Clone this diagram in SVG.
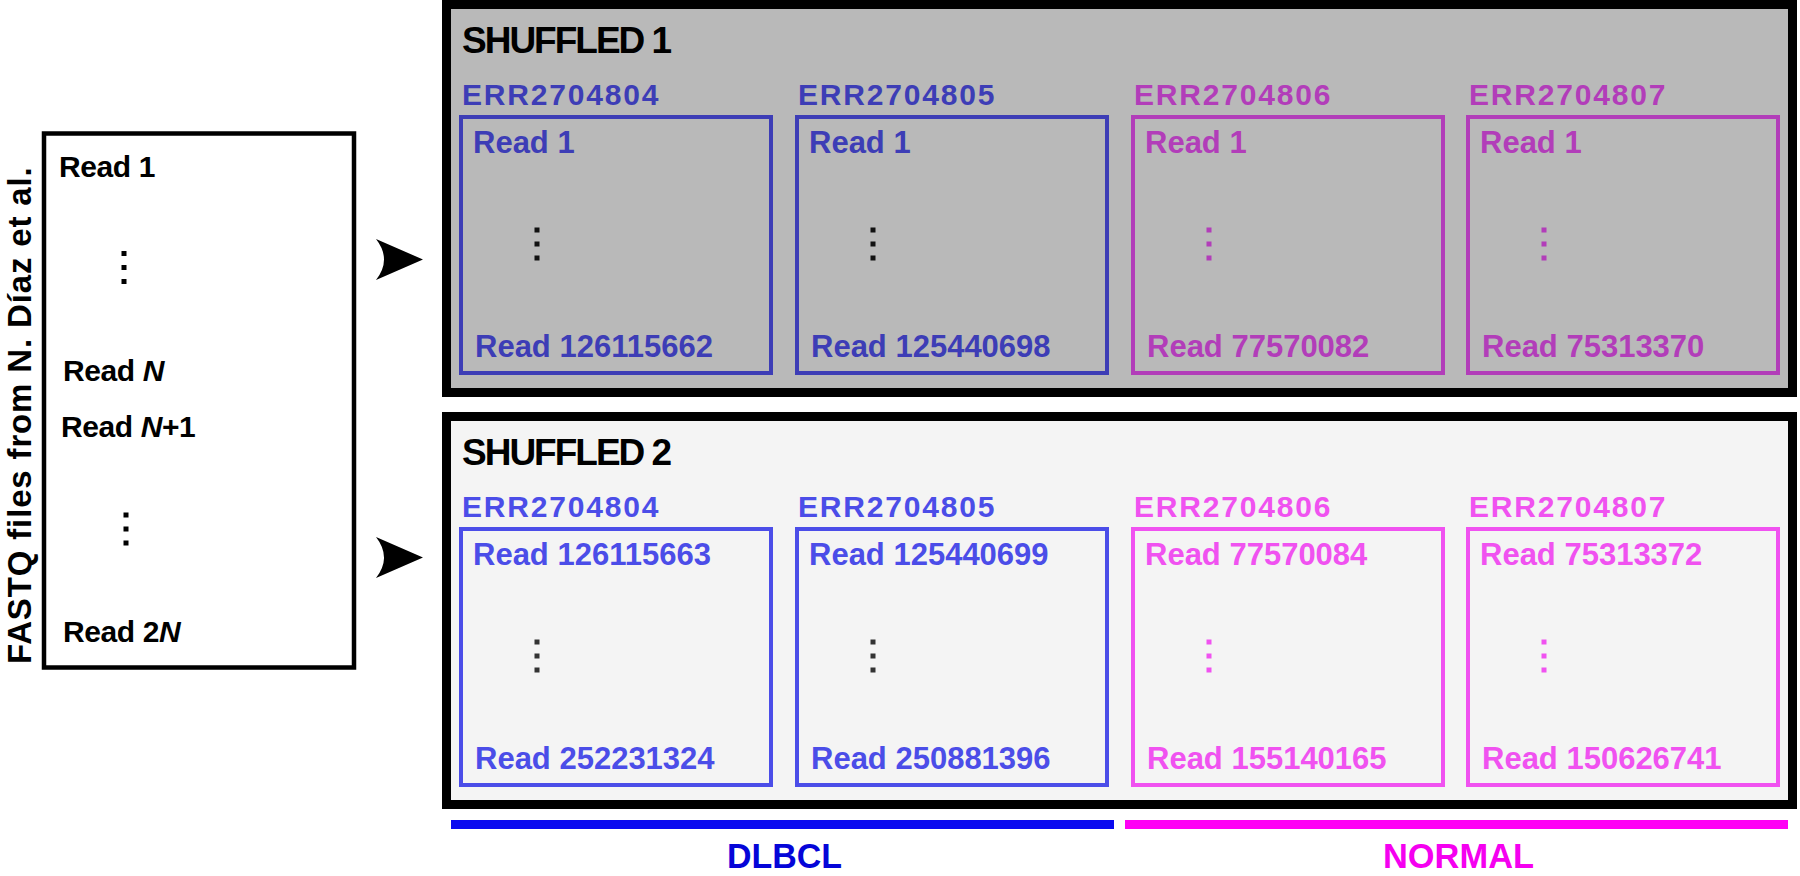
<svg xmlns="http://www.w3.org/2000/svg" width="1800" height="876" viewBox="0 0 1800 876">
<defs>
<style>
.t{font-family:"Liberation Sans",Arial,Helvetica,sans-serif;font-weight:bold}
.title{font-size:37px;letter-spacing:-2px;fill:#000}
.err{font-size:30px;letter-spacing:1.8px}
.rd{font-size:30px;letter-spacing:-0.4px}
.rs{font-size:31px}
.frame{stroke:#000;stroke-width:9}
.sample{fill:none;stroke-width:4}
.s1 .blue{fill:#3d3db6}
.s1 .mag{fill:#b23db9}
.s1 .blueS{stroke:#3d3db6}
.s1 .magS{stroke:#b23db9}
.s2 .blue{fill:#4b4de8}
.s2 .mag{fill:#f052f0}
.s2 .blueS{stroke:#4b4de8}
.s2 .magS{stroke:#f052f0}
.arrow{fill:#000}
.lbl{font-size:35px}
</style>
<g id="vdots">
<rect x="-2.5" y="-16.5" width="5" height="5"/>
<rect x="-2.5" y="-2.5" width="5" height="5"/>
<rect x="-2.5" y="11.5" width="5" height="5"/>
</g>
</defs>
<rect width="1800" height="876" fill="#fff"/>

<g id="source-fastq">
<rect x="44" y="133.5" width="310" height="534" fill="#fff" stroke="#000" stroke-width="4.5"/>
<text class="t" x="31" y="664" font-size="33" letter-spacing="0.85" transform="rotate(-90 31 664)">FASTQ files from N. Díaz et al.</text>
<text class="t rd" x="59" y="177">Read 1</text>
<use href="#vdots" x="124" y="267.5" fill="#000"/>
<text class="t rd" x="63" y="381">Read <tspan font-style="italic">N</tspan></text>
<text class="t rd" x="61" y="437">Read <tspan font-style="italic">N</tspan>+1</text>
<use href="#vdots" x="126" y="529" fill="#000"/>
<text class="t rd" x="63" y="642">Read 2<tspan font-style="italic">N</tspan></text>
</g>

<g id="connectors">
<path class="arrow" d="M376,239 L423,259.5 L376,280 Q392,259.5 376,239 Z"/>
<path class="arrow" d="M376,537 L423,557.5 L376,578 Q392,557.5 376,537 Z"/>
</g>

<g id="shuffled1" class="s1">
<rect class="frame" x="446.5" y="4.5" width="1346" height="388" fill="#b9b9b9"/>
<text class="t title" x="462" y="53">SHUFFLED 1</text>
<g id="s1-ERR2704804">
<text class="t err blue" x="462" y="105">ERR2704804</text>
<rect class="sample blueS" x="461" y="117" width="310" height="256"/>
<text class="t rs blue" x="473" y="153">Read 1</text>
<use href="#vdots" x="537" y="244" fill="#111"/>
<text class="t rs blue" x="475" y="357">Read 126115662</text>
</g>
<g id="s1-ERR2704805">
<text class="t err blue" x="798" y="105">ERR2704805</text>
<rect class="sample blueS" x="797" y="117" width="310" height="256"/>
<text class="t rs blue" x="809" y="153">Read 1</text>
<use href="#vdots" x="873" y="244" fill="#111"/>
<text class="t rs blue" x="811" y="357">Read 125440698</text>
</g>
<g id="s1-ERR2704806">
<text class="t err mag" x="1134" y="105">ERR2704806</text>
<rect class="sample magS" x="1133" y="117" width="310" height="256"/>
<text class="t rs mag" x="1145" y="153">Read 1</text>
<use href="#vdots" x="1209" y="244" class="mag"/>
<text class="t rs mag" x="1147" y="357">Read 77570082</text>
</g>
<g id="s1-ERR2704807">
<text class="t err mag" x="1469" y="105">ERR2704807</text>
<rect class="sample magS" x="1468" y="117" width="310" height="256"/>
<text class="t rs mag" x="1480" y="153">Read 1</text>
<use href="#vdots" x="1544" y="244" class="mag"/>
<text class="t rs mag" x="1482" y="357">Read 75313370</text>
</g>
</g>

<g id="shuffled2" class="s2" transform="translate(0,412)">
<rect class="frame" x="446.5" y="4.5" width="1346" height="388" fill="#f4f4f4"/>
<text class="t title" x="462" y="53">SHUFFLED 2</text>
<g id="s2-ERR2704804">
<text class="t err blue" x="462" y="105">ERR2704804</text>
<rect class="sample blueS" x="461" y="117" width="310" height="256"/>
<text class="t rs blue" x="473" y="153">Read 126115663</text>
<use href="#vdots" x="537" y="244" fill="#333"/>
<text class="t rs blue" x="475" y="357">Read 252231324</text>
</g>
<g id="s2-ERR2704805">
<text class="t err blue" x="798" y="105">ERR2704805</text>
<rect class="sample blueS" x="797" y="117" width="310" height="256"/>
<text class="t rs blue" x="809" y="153">Read 125440699</text>
<use href="#vdots" x="873" y="244" fill="#333"/>
<text class="t rs blue" x="811" y="357">Read 250881396</text>
</g>
<g id="s2-ERR2704806">
<text class="t err mag" x="1134" y="105">ERR2704806</text>
<rect class="sample magS" x="1133" y="117" width="310" height="256"/>
<text class="t rs mag" x="1145" y="153">Read 77570084</text>
<use href="#vdots" x="1209" y="244" class="mag"/>
<text class="t rs mag" x="1147" y="357">Read 155140165</text>
</g>
<g id="s2-ERR2704807">
<text class="t err mag" x="1469" y="105">ERR2704807</text>
<rect class="sample magS" x="1468" y="117" width="310" height="256"/>
<text class="t rs mag" x="1480" y="153">Read 75313372</text>
<use href="#vdots" x="1544" y="244" class="mag"/>
<text class="t rs mag" x="1482" y="357">Read 150626741</text>
</g>
</g>

<g id="group-dlbcl">
<line x1="451" y1="824.5" x2="1114" y2="824.5" stroke="#0a0af0" stroke-width="9"/>
<text class="t lbl" x="727" y="868" fill="#0505d8" textLength="115" lengthAdjust="spacingAndGlyphs">DLBCL</text>
</g>
<g id="group-normal">
<line x1="1125" y1="824.5" x2="1788" y2="824.5" stroke="#ff00f5" stroke-width="9"/>
<text class="t lbl" x="1383" y="868" fill="#f500f0" textLength="151" lengthAdjust="spacingAndGlyphs">NORMAL</text>
</g>
</svg>
